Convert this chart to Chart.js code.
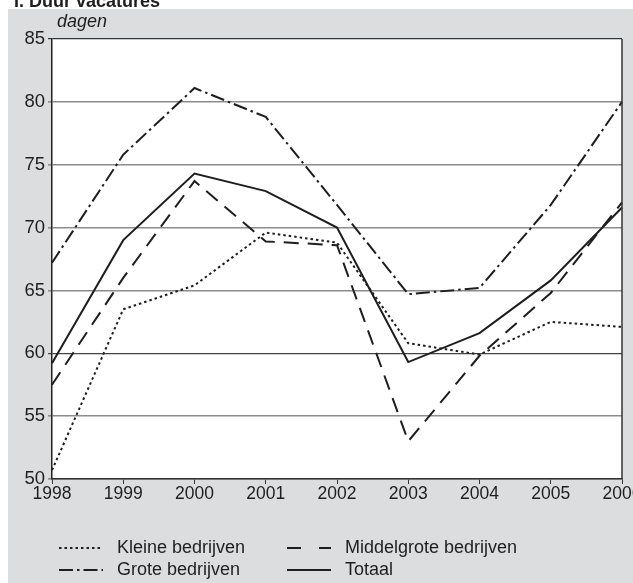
<!DOCTYPE html>
<html>
<head>
  <meta charset="utf-8">
  <title>Duur vacatures</title>
  <script src="https://cdn.jsdelivr.net/npm/chart.js"></script>
  <style>
    body { margin: 0; background: #ffffff; }
    canvas { display: block; }
  </style>
</head>
<body>
  <canvas id="chart" width="633" height="583"></canvas>
  <script>
    // data (dagen)
    const jaren = ['1998', '1999', '2000', '2001', '2002', '2003', '2004', '2005', '2006'];
    const kleine = [50.7, 63.5, 65.4, 69.6, 68.8, 60.8, 59.9, 62.5, 62.1];
    const middelgrote = [57.5, 66.0, 73.7, 68.9, 68.6, 53.0, 59.8, 64.8, 72.0];
    const grote = [67.2, 75.8, 81.1, 78.8, 71.8, 64.7, 65.2, 71.8, 80.0];
    const totaal = [59.2, 69.0, 74.3, 72.9, 70.0, 59.3, 61.6, 65.8, 71.6];
    const yTicks = [50, 55, 60, 65, 70, 75, 80, 85];

    const titel = 'I. Duur vacatures';
    const eenheid = 'dagen';

    const ink = '#1e1e1e';
    const font = '"Liberation Sans", Arial, sans-serif';

    // background, white plot area, border, title, unit and legend
    const decor = {
      id: 'decor',
      beforeDraw(chart) {
        const { ctx, chartArea: a } = chart;
        ctx.save();
        ctx.fillStyle = '#ffffff';
        ctx.fillRect(0, 0, chart.width, chart.height);
        ctx.fillStyle = '#dcdddf';
        ctx.fillRect(8, 9, chart.width - 8, chart.height - 9);
        ctx.fillStyle = '#ffffff';
        ctx.fillRect(a.left, a.top, a.right - a.left, a.bottom - a.top);
        ctx.restore();
      },
      afterDraw(chart) {
        const { ctx, chartArea: a } = chart;
        ctx.save();
        // right border
        ctx.strokeStyle = '#333';
        ctx.lineWidth = 1.5;
        ctx.beginPath();
        ctx.moveTo(a.right, a.top);
        ctx.lineTo(a.right, a.bottom);
        ctx.stroke();

        // title (cut off at the top like the source)
        ctx.fillStyle = ink;
        ctx.font = 'bold 18px ' + font;
        ctx.textBaseline = 'alphabetic';
        ctx.textAlign = 'left';
        ctx.fillText(titel, 14, 7);

        // unit label
        ctx.font = 'italic 18px ' + font;
        ctx.fillText(eenheid, 57, 27);

        // legend, two columns
        const cols = [59, 287];
        const rows = [548, 570];
        ctx.font = '18px ' + font;
        ctx.textBaseline = 'middle';
        chart.data.datasets.forEach((ds, i) => {
          const x = cols[i % 2];
          const y = rows[Math.floor(i / 2)];
          ctx.strokeStyle = ds.borderColor;
          ctx.lineWidth = ds.borderWidth;
          ctx.setLineDash(ds.legendDash || []);
          ctx.beginPath();
          ctx.moveTo(x, y);
          ctx.lineTo(x + 44, y);
          ctx.stroke();
          ctx.setLineDash([]);
          ctx.fillText(ds.label, x + 58, y);
        });
        ctx.restore();
      }
    };

    function lijn(label, data, dash, legendDash) {
      return {
        label: label,
        data: data,
        borderColor: ink,
        borderWidth: 2,
        borderDash: dash,
        legendDash: legendDash,
        pointRadius: 0,
        fill: false,
        tension: 0
      };
    }

    new Chart(document.getElementById('chart'), {
      type: 'line',
      data: {
        labels: jaren,
        datasets: [
          lijn('Kleine bedrijven', kleine, [2.5, 3], [2.5, 3]),
          lijn('Middelgrote bedrijven', middelgrote, [15, 9], [14, 18]),
          lijn('Grote bedrijven', grote, [14, 4, 2.5, 4], [14, 4, 2.5, 4]),
          lijn('Totaal', totaal, [], [])
        ]
      },
      options: {
        responsive: false,
        animation: false,
        devicePixelRatio: 1,
        layout: { padding: { left: 0, top: 39, right: 11, bottom: 0 } },
        plugins: {
          legend: { display: false },
          tooltip: { enabled: false }
        },
        scales: {
          x: {
            offset: false,
            grid: {
              drawOnChartArea: false,
              drawTicks: true,
              tickLength: 5,
              color: '#333'
            },
            border: { color: '#333', width: 1.5 },
            ticks: {
              color: ink,
              font: { family: font, size: 17.5 },
              padding: 0,
              maxRotation: 0,
              autoSkip: false
            },
            afterFit(scale) {
              scale.height = 104;
              scale.paddingLeft = 0;
              scale.paddingRight = 0;
            }
          },
          y: {
            min: 50,
            max: 85,
            afterBuildTicks(scale) {
              scale.ticks = yTicks.map(v => ({ value: v }));
            },
            grid: {
              tickLength: 4,
              lineWidth: ctx => (ctx.tick && (ctx.tick.value === 85 || ctx.tick.value === 60) ? 1.2 : 1.6),
              color: ctx => {
                const v = ctx.tick && ctx.tick.value;
                if (v === 85) return '#333';
                if (v === 60) return '#444';
                return '#8c8c8c';
              }
            },
            border: { color: '#222', width: 1.5 },
            ticks: {
              color: ink,
              font: { family: font, size: 18.5 },
              padding: 3
            },
            afterFit(scale) {
              scale.width = 52;
              scale.paddingTop = 0;
              scale.paddingBottom = 0;
            }
          }
        }
      },
      plugins: [decor]
    });
  </script>
</body>
</html>
